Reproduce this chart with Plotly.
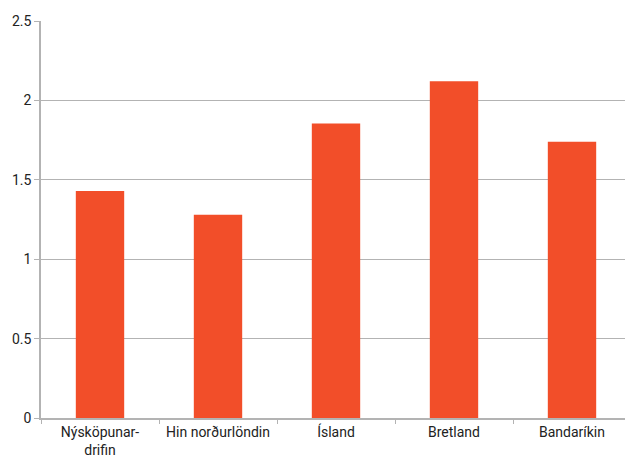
import plotly.graph_objects as go

categories = ["Nýsköpunar-<br>drifin", "Hin norðurlöndin", "Ísland", "Bretland", "Bandaríkin"]
values = [1.43, 1.28, 1.855, 2.12, 1.74]

bar_color = "#F24E29"
grid_color = "#B3B3B3"

fig = go.Figure(go.Bar(x=categories, y=values, marker=dict(color=bar_color, line_width=0), width=0.41))

# page body keeps an 8px margin, so the figure is sized to the remaining window
fig.update_layout(
    width=625, height=452,
    margin=dict(l=33, r=2, t=13, b=42),
    plot_bgcolor="white", paper_bgcolor="white",
    font=dict(family="Roboto, sans-serif", size=14, color="#222222"),
    showlegend=False,
)
fig.update_xaxes(
    showline=True, linecolor=grid_color, linewidth=1.5, automargin=False,
    ticks="outside", tickson="boundaries", ticklen=4, tickcolor=grid_color,
    showgrid=False,
)
fig.update_yaxes(
    range=[0, 2.5], dtick=0.5, showline=True, linecolor=grid_color, linewidth=1.5, automargin=False,
    ticks="outside", ticklen=5, tickcolor=grid_color,
    showgrid=True, gridcolor=grid_color, gridwidth=1, zeroline=False,
)

fig.write_html("out.html")
